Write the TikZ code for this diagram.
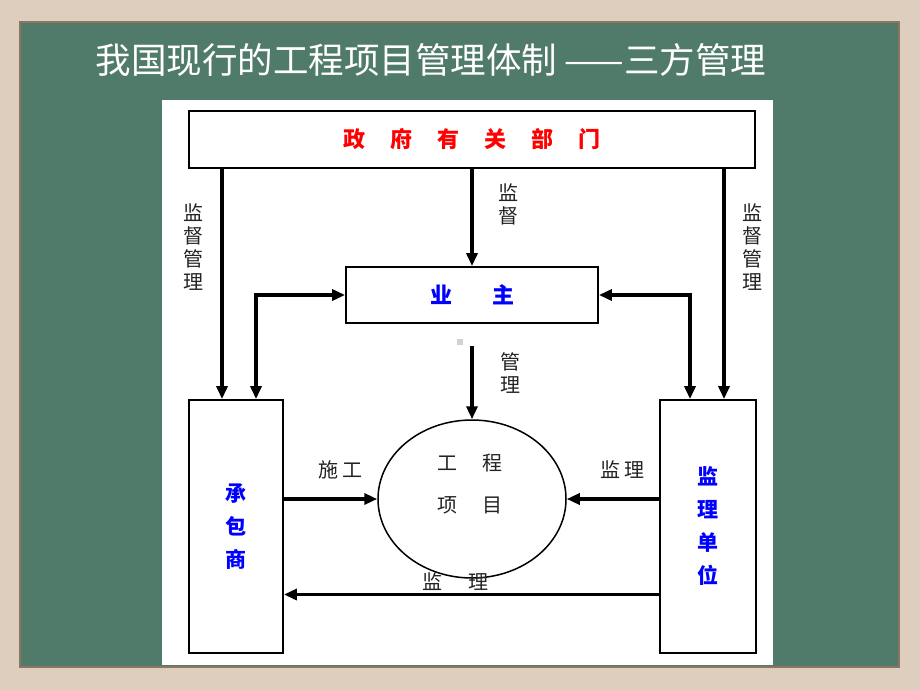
\documentclass[tikz,border=0pt]{standalone}
\usepackage{fontspec}
\usepackage{xcolor}
\setmainfont{Noto Sans CJK SC}
\usetikzlibrary{shapes.geometric,arrows.meta}
\definecolor{boardgreen}{RGB}{80,123,106}
\definecolor{frametan}{RGB}{222,206,189}
\definecolor{frameedge}{RGB}{140,118,98}
\definecolor{labelgray}{RGB}{35,35,35}
\tikzstyle{box} = [rectangle, draw=black, line width=1.8pt, fill=white, inner sep=0pt]
\tikzstyle{unit} = [box, minimum width=94pt, minimum height=253pt, align=center, text=blue, font=\fontsize{21}{33}\selectfont\bfseries]
\tikzstyle{tag} = [text=labelgray, align=center, inner sep=0pt, font=\fontsize{20}{23}\selectfont]
\tikzstyle{flow} = [line width=3.6pt, -{Triangle[length=13pt,width=11pt]}]
\tikzstyle{both} = [line width=3.6pt, {Triangle[length=13pt,width=11pt]}-{Triangle[length=13pt,width=11pt]}]

\begin{document}
\begin{tikzpicture}[x=1pt, y=-1pt, node distance=1cm]

    \useasboundingbox (0,0) rectangle (920,690);
    \fill [frametan] (0,0) rectangle (920,690);
    \fill [boardgreen] (20,22) rectangle (899,667);
    \draw [frameedge, line width=2pt] (20,22) rectangle (899,667);
    \fill [white] (162,100) rectangle (773,665);

    \node (title) [text=white, font=\fontsize{35.5}{40}\selectfont] at (431,60) {我国现行的工程项目管理体制 ——三方管理};

    \node (gov) [box, minimum width=566pt, minimum height=57pt, text=red, font=\fontsize{22}{26}\selectfont\bfseries] at (472,139.5) {政\hspace{25pt}府\hspace{25pt}有\hspace{25pt}关\hspace{25pt}部\hspace{25pt}门};
    \node (owner) [box, minimum width=252pt, minimum height=56pt, text=blue, font=\fontsize{22}{26}\selectfont\bfseries] at (472,295) {业\hspace{40pt}主};
    \node (contractor) [unit] at (236,526.5) {承\\包\\商};
    \node (supervisor) [unit, minimum width=96pt] at (708,526.5) {监\\理\\单\\位};
    \node (project) [ellipse, draw=black, line width=1.5pt, minimum width=188pt, minimum height=158pt] at (472,499) {};
    \node (projtext) [tag, font=\fontsize{20}{42}\selectfont] at (470,484) {工\hspace{25pt}程\\项\hspace{25pt}目};

    \coordinate (cl) at ([xshift=-14pt]contractor.north);
    \coordinate (cr) at ([xshift=20pt]contractor.north);
    \coordinate (sl) at ([xshift=-18pt]supervisor.north);
    \coordinate (sr) at ([xshift=16pt]supervisor.north);
    \coordinate (mgmt) at ([yshift=-22pt]owner.south);
    \coordinate (bs) at ([yshift=-68pt]supervisor.west);
    \coordinate (bc) at ([yshift=-68pt]contractor.east);

    \draw [flow] (gov.south -| cl) -- (cl);
    \draw [flow] (gov.south -| sr) -- (sr);
    \draw [flow] (gov.south) -- (owner.north);
    \draw [both] (owner.west) -| (cr);
    \draw [both] (owner.east) -| (sl);
    \draw [flow] (mgmt) -- (project.north);
    \draw [flow] (contractor.east |- project.west) -- (project.west);
    \draw [flow] (supervisor.west |- project.east) -- (project.east);
    \draw [flow] (bs) -- (bc);

    \node (lgov) [tag] at (193,247) {监\\督\\管\\理};
    \node (rgov) [tag] at (752,247) {监\\督\\管\\理};
    \node (mgov) [tag] at (508,204) {监\\督};
    \node (mown) [tag] at (510,373) {管\\理};
    \node (build) [tag] at (340,470) {施\hspace{4pt}工};
    \node (watch) [tag] at (622,470) {监\hspace{4pt}理};
    \node (watch2) [tag] at (455,582) {监\hspace{26pt}理};
    \fill [gray!35] (457,339) rectangle (463,345);
\end{tikzpicture}
\end{document}
